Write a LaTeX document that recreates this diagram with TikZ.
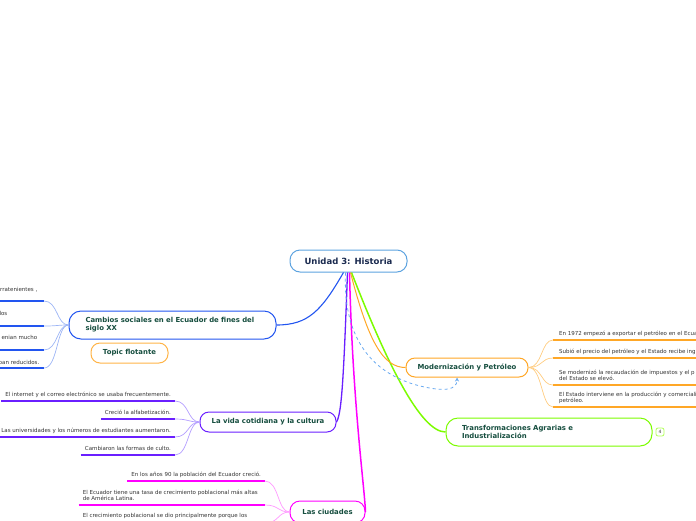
\documentclass[tikz,border=0pt]{standalone}
\usepackage{fontspec}
\setmainfont{DejaVu Sans}
\usetikzlibrary{arrows.meta}
\definecolor{rootc}{HTML}{5DA3E0}
\definecolor{roottext}{HTML}{1A2A4F}
\definecolor{topictext}{HTML}{164E3F}
\definecolor{leaftext}{HTML}{333333}
\definecolor{bluec}{HTML}{2255F0}
\definecolor{bluel}{HTML}{9DB5F5}
\definecolor{orangec}{HTML}{FFA726}
\definecolor{orangel}{HTML}{FFCC80}
\definecolor{greenc}{HTML}{7CFC00}
\definecolor{greenl}{HTML}{B2FF59}
\definecolor{purplec}{HTML}{6A1FFF}
\definecolor{purplel}{HTML}{B39DFF}
\definecolor{magc}{HTML}{FF00FF}
\definecolor{magl}{HTML}{FF99FF}
\definecolor{dashc}{HTML}{6AAAF0}
\begin{document}
\begin{tikzpicture}[x=1pt,y=-1pt,
  topic/.style={draw, rounded corners=9pt, line width=1pt, fill=white,
    font=\fontsize{6.9}{8.2}\selectfont\bfseries, text=topictext, inner sep=0pt},
  leafbase/.style={font=\fontsize{5.5}{6.6}\selectfont, text=leaftext, inner xsep=4pt, inner ysep=4pt},
  leaf/.style={leafbase, text depth=0pt},
  frag/.style={font=\fontsize{5.5}{6.6}\selectfont, text=leaftext, inner sep=0pt},
  uline/.style={line width=1.7pt},
  twig/.style={line width=0.7pt}
]
\useasboundingbox (0,0) rectangle (696,520);
\clip (0,0) rectangle (696,520);

% main topics
\node[topic, draw=rootc, text=roottext, font=\fontsize{8.5}{10}\selectfont\bfseries,
  minimum width=117pt, minimum height=22pt, rounded corners=10pt] (root) at (348.5,261) {Unidad 3: Historia};
\node[topic, draw=bluec, minimum width=207pt, minimum height=28pt, rounded corners=12pt,
  text width=174pt, align=left] (cambios) at (172.5,325) {Cambios sociales en el Ecuador de fines del\\siglo XX};
\node[topic, draw=orangec!85, minimum width=77pt, minimum height=20pt] (flot) at (129.5,353) {Topic flotante};
\node[topic, draw=orangec, minimum width=122pt, minimum height=19pt] (modern) at (467,367.5) {Modernización y Petróleo};
\node[topic, draw=greenc, minimum width=206pt, minimum height=28pt, rounded corners=12pt,
  text width=174pt, align=left] (transf) at (549,432) {Transformaciones Agrarias e\\Industrialización};
\node[draw=greenl, line width=0.8pt, rounded corners=2pt, minimum width=8pt, minimum height=8pt, inner sep=0pt,
  font=\fontsize{4.5}{5}\selectfont, text=leaftext, fill=white] (badge) at (660,432) {4};
\node[topic, draw=purplec, minimum width=136pt, minimum height=20pt] (vida) at (268,422) {La vida cotidiana y la cultura};
\node[topic, draw=magc, minimum width=75pt, minimum height=22pt, rounded corners=10pt] (ciud) at (327.5,512) {Las ciudades};

% main connectors
\draw[bluec, line width=1.1pt] ([xshift=-5pt]root.south) .. controls +(-22,38) and +(32,0) .. (cambios.east);
\draw[purplec, line width=1.3pt] ([xshift=-1pt]root.south) .. controls +(-4,110) and +(5,-8) .. (vida.east);
\draw[magc, line width=1.5pt] ([xshift=1pt]root.south) .. controls +(3,130) and +(-1,-25) .. (ciud.east);
\draw[greenc, line width=1.5pt] ([xshift=3pt]root.south) .. controls +(35,90) and +(-25,0) .. (transf.west);
\draw[orangec, line width=1pt] ([xshift=2pt]root.south) .. controls +(18,70) and +(-22,0) .. (modern.west);
\draw[dashc, line width=0.8pt, dashed, -{Stealth[length=4pt,width=4pt]}]
  ([xshift=-3pt]root.south) .. controls (343,330) and (365,372) .. (420,386)
  .. controls (445,392) and (457,390) .. ([xshift=-10pt]modern.south);

% Cambios sociales leaves (cut at the left edge)
\node[frag, anchor=base east] (c1) at (37.5,291) {rratenientes ,};
\node[frag, anchor=base east] (c2) at (7.5,315) {los};
\node[frag, anchor=base east] (c3) at (37.5,339.5) {enian mucho};
\node[frag, anchor=base east] (c4) at (39.5,364) {ban reducidos.};
\coordinate (c1a) at (0,301); \coordinate (c1b) at (44,301);
\coordinate (c2a) at (0,326); \coordinate (c2b) at (44,326);
\coordinate (c3a) at (0,350); \coordinate (c3b) at (44,350);
\coordinate (c4a) at (0,368); \coordinate (c4b) at (44,368);
\foreach \c in {c1,c2,c3,c4}{
  \draw[bluec, uline] (\c a) -- (\c b);
  \draw[bluel, twig] (\c b) .. controls +(14,0) and +(-12,0) .. (cambios.west);
}

% La vida cotidiana leaves
\node[leaf, anchor=south east] (v1) at (175,401) {El internet y el correo electrónico se usaba frecuentemente.};
\node[leaf, anchor=south east] (v2) at (175,419) {Creció la alfabetización.};
\node[leaf, anchor=south east] (v3) at (175,437) {Las universidades y los números de estudiantes aumentaron.};
\node[leaf, anchor=south east] (v4) at (175,455) {Cambiaron las formas de culto.};
\foreach \v in {v1,v2,v3,v4}{
  \draw[purplec, uline] (\v.south west) -- (\v.south east);
  \draw[purplel, twig] (\v.south east) .. controls +(14,0) and +(-12,0) .. (vida.west);
}

% Las ciudades leaves
\node[leaf, anchor=south east] (k1) at (265,481) {En los años 90 la población del Ecuador creció.};
\node[leafbase, anchor=south east, text width=178pt, align=flush left] (k2) at (265,505) {El Ecuador tiene una tasa de crecimiento poblacional más altas\\de América Latina.};
\node[leafbase, anchor=south east, text width=178pt, align=flush left] (k3) at (265,523) {El crecimiento poblacional se dio principalmente porque los};
\foreach \k in {k1,k2,k3}{
  \draw[magc, uline] (\k.south west) -- (\k.south east);
  \draw[magl, twig] (\k.south east) .. controls +(14,0) and +(-12,0) .. (ciud.west);
}

% Modernizacion leaves
\node[leaf, anchor=south west, inner xsep=6pt] (m1) at (553,340) {En 1972 empezó a exportar el petróleo en el Ecua};
\node[leaf, anchor=south west, inner xsep=6pt] (m2) at (553,358) {Subió el precio del petróleo y el Estado recibe ing};
\node[leaf, anchor=south west, inner xsep=6pt, align=left] (m3) at (553,385) {Se modernizó la recaudación de impuestos y el p\\del Estado se elevó.};
\node[leaf, anchor=south west, inner xsep=6pt, align=left] (m4) at (553,407) {El Estado interviene en la producción y comerciali\\petróleo.};
\foreach \m in {m1,m2,m3,m4}{
  \draw[orangec, uline] (\m.south west) -- ([xshift=200pt]\m.south west);
  \draw[orangel, twig] (modern.east) .. controls +(14,0) and +(-12,0) .. (\m.south west);
}
\end{tikzpicture}
\end{document}
